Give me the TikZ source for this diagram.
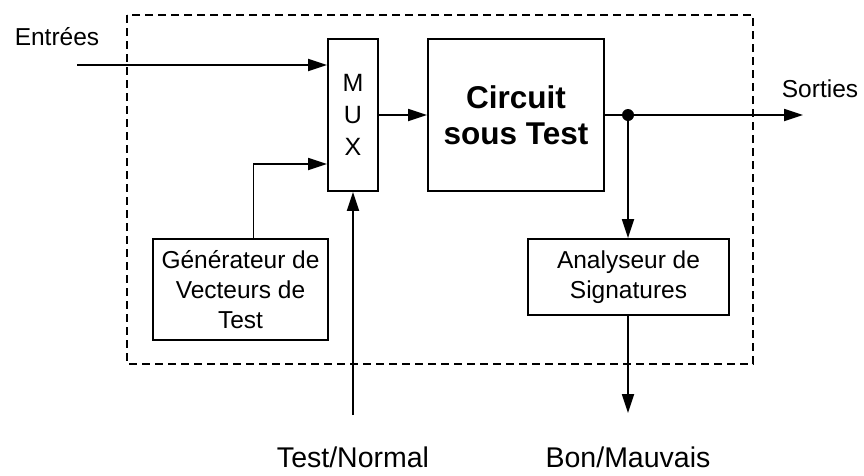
\documentclass[tikz,border=0pt]{standalone}
\usepackage{fontspec}
\setmainfont{Liberation Sans}
\usepackage{tikz}
\usetikzlibrary{arrows.meta,positioning}

\begin{document}
\begin{tikzpicture}
[x=1pt,y=-1pt,
box/.style={draw,line width=1.8pt,inner sep=0pt,align=center,
font=\fontsize{24.5}{30}\selectfont},
fleche/.style={line width=1.8pt,-{Triangle[length=19pt,width=12pt]}},
label/.style={inner sep=0pt,anchor=base,font=\fontsize{24.5}{30}\selectfont},
grand/.style={inner sep=0pt,anchor=base,font=\fontsize{28.5}{34}\selectfont}]
\useasboundingbox (0,0) rectangle (864,475);
% cadre du test integre
\draw[line width=1.8pt,dash pattern=on 8pt off 5pt] (127,15) rectangle (753,364);
% blocs
\node[box,minimum width=50pt,minimum height=152pt,text depth=-4pt,
font=\fontsize{25}{32}\selectfont] (mux) at (353,115) {M\\U\\X};
\node[box,minimum width=176pt,minimum height=152pt,
font=\fontsize{31.5}{36}\selectfont\bfseries] (circuit) at (516,115) {Circuit\\sous Test};
\node[box,minimum width=175pt,minimum height=101pt] (gen) at (240.5,289.5)
{G\'en\'erateur de\\Vecteurs de\\Test};
\node[box,minimum width=201pt,minimum height=76pt] (ana) at (628.5,277)
{Analyseur de\\Signatures};
% points libres
\coordinate (entree) at (77,65);
\coordinate (noeud) at (628,115);
\coordinate (sortie) at (803,115);
\coordinate (tn) at (353,415);
\coordinate (bm) at (628,413);
% textes
\node[label] (lentree) at (57,45) {Entr\'ees};
\node[label] (lsortie) at (820,97) {Sorties};
\node[grand] (ltn) at (353,467) {Test/Normal};
\node[grand] (lbm) at (628,467) {Bon/Mauvais};
% liaisons
\draw[fleche] (entree) -- (entree -| mux.west);
\draw[fleche] ([xshift=13pt]gen.north) |- ([yshift=-49pt]mux.west);
\draw[fleche] (tn) -- (mux.south);
\draw[fleche] (mux) -- (circuit);
\draw[fleche] (circuit.east) -- (sortie);
\fill (noeud) circle (6pt);
\draw[fleche] (noeud) -- (noeud |- ana.north);
\draw[fleche] (noeud |- ana.south) -- (bm);
\end{tikzpicture}
\end{document}
